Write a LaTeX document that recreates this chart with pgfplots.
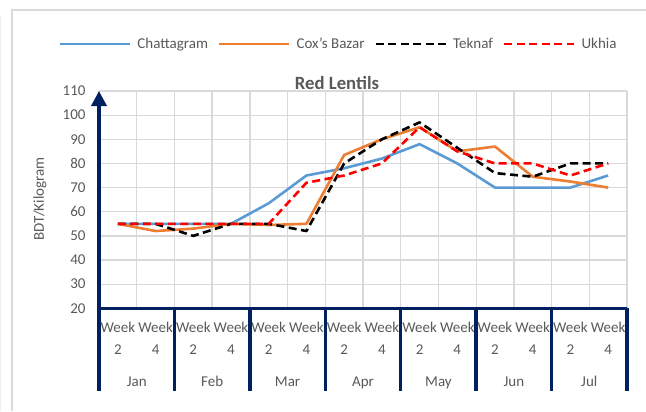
\documentclass[border=0pt]{standalone}
\usepackage{pgfplots}
\pgfplotsset{compat=1.18}
\usepackage{fontspec}
\setmainfont{Carlito}
\usetikzlibrary{arrows.meta}
\definecolor{cblue}{HTML}{5B9BD5}
\definecolor{corange}{HTML}{ED7D31}
\definecolor{navy}{HTML}{002060}
\definecolor{gridc}{HTML}{D9D9D9}
\definecolor{txt}{HTML}{595959}
\begin{document}
\begin{tikzpicture}[x=1bp,y=1bp, font=\fontsize{15bp}{18bp}\selectfont]
\draw[gray!12, line width=1bp] (0.5,0) -- (0.5,396);
\draw[gridc, line width=1.5bp] (12,0) -- (12,401) -- (646,401);
\begin{axis}[
  at={(99bp,102.7bp)}, anchor=south west,
  width=528bp, height=217.3bp, scale only axis,
  xmin=0, xmax=14, ymin=20, ymax=110,
  ytick={20,30,...,110},
  xtick={0.5,1.5,...,13.5},
  xticklabels={Week,Week,Week,Week,Week,Week,Week,Week,Week,Week,Week,Week,Week,Week},
  minor xtick={0,1,...,14},
  xmajorgrids=false, xminorgrids=true, ymajorgrids=true,
  grid style={gridc, line width=1.3bp},
  minor grid style={gridc, line width=1.3bp},
  major tick length=0pt, minor tick length=0pt,
  axis line style={draw=none},
  clip=false,
  /pgf/number format/assume math mode=true,
  ticklabel style={font=\fontsize{15bp}{18bp}\selectfont, text=txt},
  xticklabel style={anchor=base, yshift=-23.7bp},
  yticklabel style={anchor=east, xshift=-10bp},
  legend columns=4,
  legend style={at={(-0.0822,1.2163)}, anchor=west, draw=none, fill=none,
    font=\fontsize{15bp}{18bp}\selectfont, text=txt,
    nodes={inner sep=0pt},
    /tikz/every odd column/.append style={column sep=6bp},
    /tikz/every even column/.append style={column sep=10bp}},
  legend image code/.code={\draw[#1] (0bp,0bp) -- (70bp,0bp);},
]
\addplot[cblue, line width=2.6bp, line join=round] coordinates {
(0.5,55) (1.5,55) (2.5,55) (3.5,55) (4.5,63.5) (5.5,75) (6.5,78)
(7.5,82) (8.5,88) (9.5,80) (10.5,70) (11.5,70) (12.5,70) (13.5,75)};
\addlegendentry{Chattagram}
\addplot[corange, line width=2.6bp, line join=round] coordinates {
(0.5,55) (1.5,52) (2.5,53) (3.5,55) (4.5,54.5) (5.5,55) (6.5,83.5)
(7.5,90) (8.5,95) (9.5,85) (10.5,87) (11.5,74.5) (12.5,72.5) (13.5,70)};
\addlegendentry{Cox's Bazar}
\addplot[black, line width=2.6bp, line join=round, dash pattern=on 8bp off 4.5bp] coordinates {
(0.5,55) (1.5,55) (2.5,50) (3.5,55) (4.5,55) (5.5,52) (6.5,80)
(7.5,90) (8.5,97) (9.5,86.5) (10.5,76) (11.5,74.5) (12.5,80) (13.5,80)};
\addlegendentry{Teknaf}
\addplot[red, line width=2.6bp, line join=round, dash pattern=on 8bp off 4.5bp] coordinates {
(0.5,55) (1.5,55) (2.5,55) (3.5,55) (4.5,55) (5.5,72) (6.5,75)
(7.5,80) (8.5,95) (9.5,85) (10.5,80) (11.5,80) (12.5,75) (13.5,80)};
\addlegendentry{Ukhia}
% axes
\draw[navy, line width=3.5bp] (axis cs:0,20) -- (axis cs:14,20);
\draw[navy, line width=3.5bp, -{Triangle[length=15bp,width=15bp]}] (axis cs:0,20) -- (axis cs:0,110);
\pgfplotsinvokeforeach{0,2,4,6,8,10,12,14}{
  \coordinate (s#1) at (axis cs:#1,20);
}
\pgfplotsinvokeforeach{0,2,4,6,8,10,12}{
  \node[anchor=base, text=txt] at ([yshift=-45.7bp]axis cs:#1.5,20) {2};
}
\pgfplotsinvokeforeach{1,3,5,7,9,11,13}{
  \node[anchor=base, text=txt] at ([yshift=-45.7bp]axis cs:#1.5,20) {4};
}
\node[anchor=base, text=txt] at ([yshift=-77.7bp]axis cs:1,20) {Jan};
\node[anchor=base, text=txt] at ([yshift=-77.7bp]axis cs:3,20) {Feb};
\node[anchor=base, text=txt] at ([yshift=-77.7bp]axis cs:5,20) {Mar};
\node[anchor=base, text=txt] at ([yshift=-77.7bp]axis cs:7,20) {Apr};
\node[anchor=base, text=txt] at ([yshift=-77.7bp]axis cs:9,20) {May};
\node[anchor=base, text=txt] at ([yshift=-77.7bp]axis cs:11,20) {Jun};
\node[anchor=base, text=txt] at ([yshift=-77.7bp]axis cs:13,20) {Jul};
\node[text=txt, font=\bfseries\fontsize{18.7bp}{22bp}\selectfont] at (rel axis cs:0.4508,1.037) {Red Lentils};
\node[rotate=90, text=txt] at (rel axis cs:-0.1117,0.503) {BDT/Kilogram};
\end{axis}
\foreach \k in {0,2,4,6,8,10,12,14}{
  \draw[navy, line width=3.5bp] (s\k) -- ++(0,-83);
}
\pgfresetboundingbox
\useasboundingbox (0,0) rectangle (646,411);
\end{tikzpicture}
\end{document}
